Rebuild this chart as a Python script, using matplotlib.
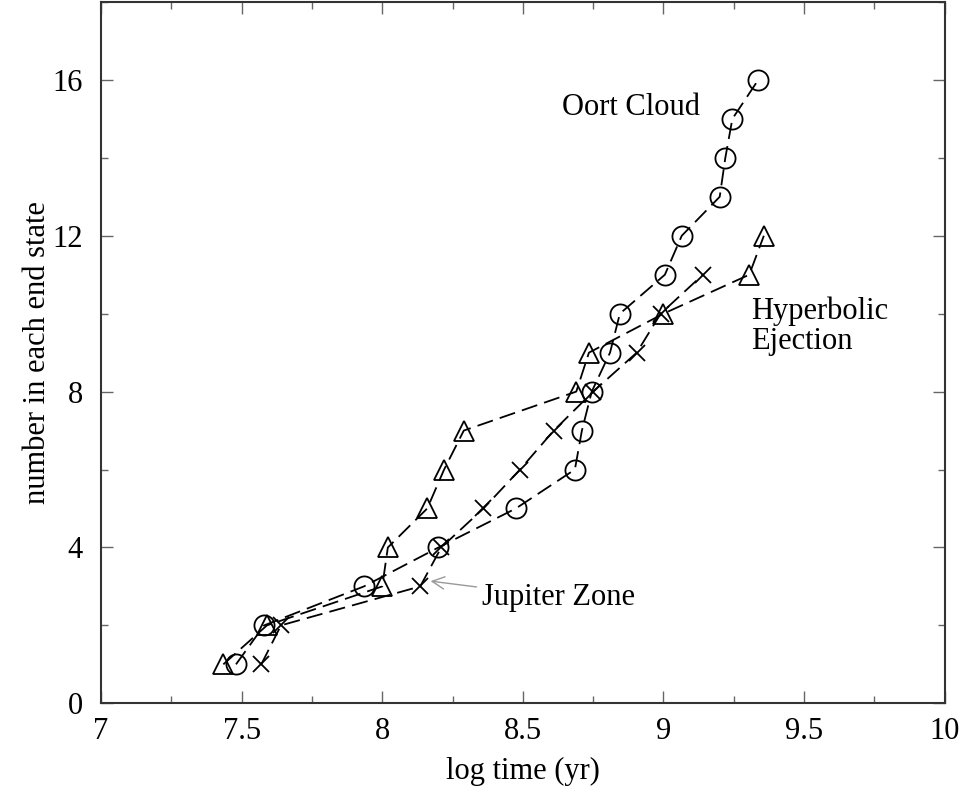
import matplotlib
matplotlib.use("Agg")
import matplotlib.pyplot as plt
from matplotlib.ticker import MultipleLocator

plt.rcParams['font.family'] = ['Liberation Serif', 'DejaVu Serif']

# number in each end state vs log time
oort_x = [7.48, 7.58, 7.935, 8.20, 8.475, 8.685, 8.71, 8.745, 8.81, 8.845,
          9.005, 9.065, 9.20, 9.22, 9.245, 9.337]
oort_y = list(range(1, 17))

hyp_x = [7.435, 7.59, 8.00, 8.02, 8.16, 8.22, 8.29, 8.69, 8.735, 9.00,
         9.305, 9.357]
hyp_y = list(range(1, 13))

jup_x = [7.57, 7.64, 8.135, 8.21, 8.36, 8.49, 8.61, 8.75, 8.905, 8.99, 9.14]
jup_y = list(range(1, 12))

fig = plt.figure(figsize=(9.62, 7.92), dpi=100)
ax = fig.add_axes([0.105, 0.112, 0.877, 0.8855])

dash = (9, 4)
ax.plot(oort_x, oort_y, color='black', lw=1.3, dashes=dash, marker='o',
        ms=14.5, mfc='none', mec='black', mew=1.3)
ax.plot(hyp_x, hyp_y, color='black', lw=1.3, dashes=dash, marker='^',
        ms=15, mfc='none', mec='black', mew=1.3)
ax.plot(jup_x, jup_y, color='black', lw=1.3, dashes=dash, marker='x',
        ms=12, mfc='none', mec='black', mew=1.3)

ax.text(8.884, 15.28, 'Oort Cloud', fontsize=22, ha='center', va='center')
ax.text(9.31, 9.67, 'Hyperbolic\nEjection', fontsize=22, ha='left',
        va='center', linespacing=1.05)
ax.annotate('Jupiter Zone', xy=(8.167, 3.14), xytext=(8.355, 2.72),
            fontsize=22, ha='left', va='center',
            arrowprops=dict(arrowstyle='->', color='#999999', lw=1.0,
                            shrinkA=2, shrinkB=1))

ax.set_xlim(7, 10)
ax.set_ylim(0, 18)
ax.xaxis.set_minor_locator(MultipleLocator(0.25))
ax.yaxis.set_minor_locator(MultipleLocator(2))
ax.set_xticks([7, 7.5, 8, 8.5, 9, 9.5, 10])
ax.set_xticklabels(['7', '7.5', '8', '8.5', '9', '9.5', '10'])
ax.set_yticks([0, 4, 8, 12, 16])
ax.tick_params(which='both', direction='in', top=True, right=True,
               labelsize=22, color='#666666', width=1.0)
ax.tick_params(which='major', length=8.5)
ax.tick_params(which='minor', length=5)
ax.tick_params(axis='x', which='major', pad=10)
ax.tick_params(axis='y', which='major', pad=13)
for s in ax.spines.values():
    s.set_linewidth(1.5)
    s.set_color('#333333')

ax.set_xlabel('log time (yr)', fontsize=22, labelpad=8)
ax.set_ylabel('number in each end state', fontsize=22, labelpad=0)

fig.savefig('out.png', dpi=100)
